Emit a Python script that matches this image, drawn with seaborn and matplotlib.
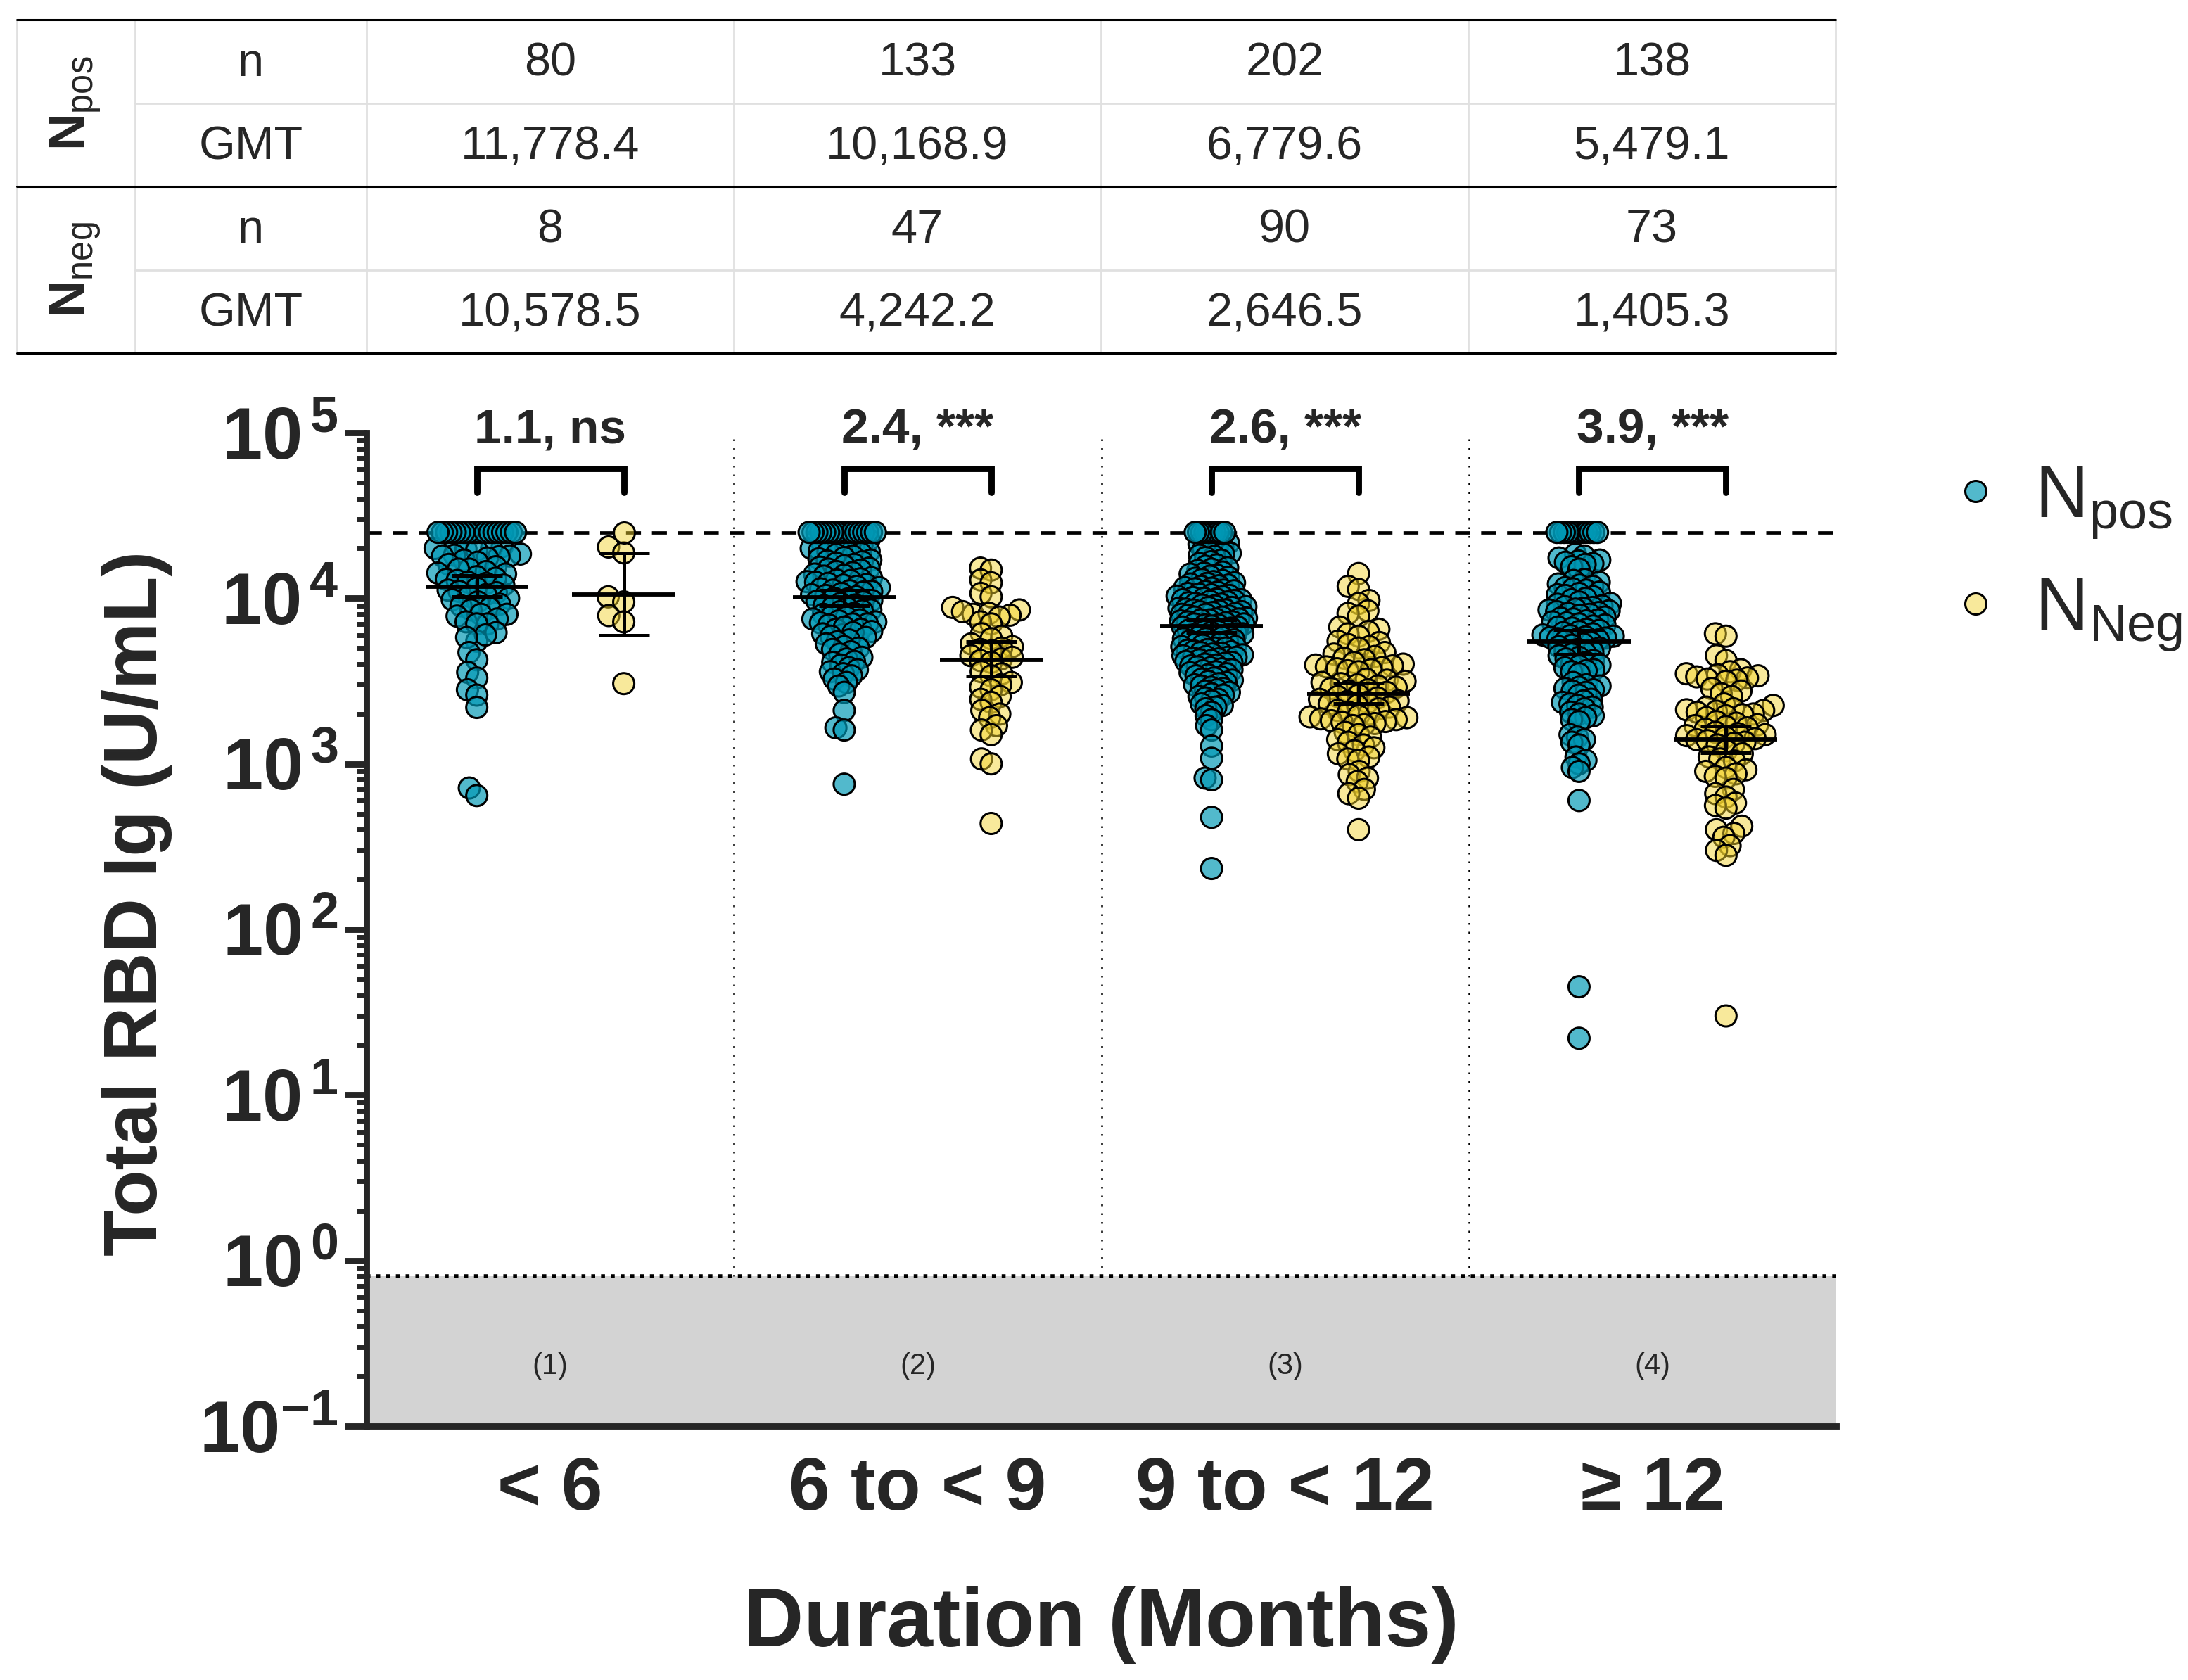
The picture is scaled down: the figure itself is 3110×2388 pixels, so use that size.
import warnings
import numpy as np
import pandas as pd
import matplotlib
matplotlib.use("Agg")
import matplotlib.pyplot as plt
from matplotlib.lines import Line2D
from matplotlib.ticker import LogLocator, NullFormatter
import seaborn as sns

warnings.filterwarnings("ignore")

# categories / groups
durations = ["< 6", "6 to < 9", "9 to < 12", "\u2265 12"]
groups = ["Npos", "Nneg"]

# table values
n_pos = [80, 133, 202, 138]
gmt_pos = [11778.4, 10168.9, 6779.6, 5479.1]
n_neg = [8, 47, 90, 73]
gmt_neg = [10578.5, 4242.2, 2646.5, 1405.3]

# 95% CI of the GMT
ci_pos_lo = [10200, 9040, 6200, 4600]
ci_pos_hi = [13700, 11150, 7400, 6410]
ci_neg_lo = [6000, 3390, 2320, 1163]
ci_neg_hi = [18700, 5450, 3080, 1693]

signif = ["ns", "***", "***", "***"]
region_labels = ["(1)", "(2)", "(3)", "(4)"]

ULOD = 25000
LLOD = 0.8

# individual values (U/mL)
pos_lt6 = [25000] * 19 + [
    21000, 20500, 20000, 20000, 19800, 19500,
    18500, 18200, 18000, 18000, 17800, 17500, 17000,
    16500, 16000, 15500, 15000, 15000, 14500, 14200, 14000,
    13500, 13200, 13000, 12800, 12500, 12300, 12000,
    11500, 11200, 11000, 10800, 10500, 10300, 10000,
    9800, 9500, 9200, 9000, 8700, 8500,
    8000, 8000, 7800, 7500, 7200, 7000, 7000, 5500,
    6200, 6000, 5800,
    4700, 4250, 3570, 3300, 2800, 2600, 2190, 714, 643]
neg_lt6 = [25000, 20400, 18800, 10200, 9500, 7860, 7200, 3050]

pos_6to9 = [25000] * 18 + [
    23500, 23000, 22500, 22000, 22000, 21500, 21000, 20800,
    20300, 20000, 19700, 19500, 19200, 19000, 18700, 18400, 18000,
    17600, 17300, 17000, 16800, 16600, 16300, 16000, 15700,
    15400, 15200, 15000, 14800, 14500, 14300, 14000, 13800, 13600,
    13300, 13100, 12900, 12800, 12600, 12500, 12300, 12100, 12000, 11800,
    11600, 11400, 11200, 11100, 11000, 10900, 10700, 10500, 10400, 10200,
    10000, 9900, 9700, 9600, 9500, 9300, 9100, 9000,
    8800, 8700, 8500, 8400, 8300, 8100, 8000, 7800,
    7700, 7500, 7400, 7300, 7200, 7100, 7000, 6900, 7000, 6500, 6000, 5600,
    6700, 6500, 6300, 6200, 6100, 5900,
    5800, 5600, 5450, 5300, 5100,
    5000, 4900, 4750, 4600, 4400,
    4300, 4150, 4100, 3950,
    3800, 3700, 3600, 3500, 3400,
    3250, 3100, 2950, 2700,
    2100, 1650, 1600, 753]
neg_6to9 = [
    15200, 14800, 12900, 12400, 8000, 10700, 10200,
    8800, 8500, 8300, 8100, 7900, 7700, 7200, 7000,
    6100, 5900, 5700, 5300, 5100, 5000, 4900, 4800, 4300,
    4500, 4400, 4200, 4100, 3600, 3500, 3400,
    3100, 3000, 2900, 2800, 2550, 2450, 2350,
    2100, 2000, 1900, 1700, 1600, 1500, 1070, 1000, 436]

pos_9to12 = [25000] * 10 + [
    22500, 22000, 21500, 21200, 20800, 20500,
    19800, 19400, 19000, 18700, 18500, 18200, 17900, 17600,
    17000, 16600, 16200, 15900, 15600, 15300, 15000, 14700,
    14400, 14200, 14000, 13800, 13600, 13400, 13200, 13000, 12800, 12600,
    12400, 12300, 12200, 12000, 11900, 11800, 11600, 11500, 11400, 11200,
    11100, 11000, 10900, 10700, 10600,
    10500, 10400, 10300, 10200, 10100, 10000, 9900, 9800, 9800, 9700,
    9600, 9500, 9400, 9300, 9200, 9100, 9000,
    8900, 8800, 8800, 8700, 8600, 8500, 8500, 8400, 8300, 8300,
    8200, 8100, 8000, 8000, 7900, 7800, 7700, 7700, 7600,
    7500, 7500, 7400, 7400, 7300, 7200, 7200, 7100, 7000, 7000,
    6900, 6900, 6800, 6700, 6700, 6600, 6500, 6500,
    6400, 6300, 6300, 6200, 6100, 6100, 6000, 6000, 5900, 5800,
    5800, 5700, 5700, 5600, 5500,
    5450, 5400, 5300, 5300, 5200, 5100, 5100, 5000, 5000, 4900,
    4850, 4800, 4750,
    4700, 4650, 4600, 4550, 4500, 4450, 4400, 4400, 4350, 4300,
    4250, 4200, 4150, 4100, 4050,
    4000, 3950, 3900, 3850, 3800, 3750, 3700, 3650, 3600, 3550, 3500, 3450,
    3400, 3350, 3300, 3250, 3200, 3150, 3100, 3050, 3000, 2950, 2900,
    2850, 2800, 2750, 2700, 2650, 2600, 2550, 2500,
    2450, 2400, 2300, 2250, 2200, 2150,
    2050, 1950, 1850, 1700, 1600,
    1280, 1080, 820, 800, 475, 233]
neg_9to12 = [
    14100, 11800, 11300, 9700, 9300, 8400, 8100, 7800,
    6700, 6500, 6300, 6100, 5900, 5500, 5400, 5250, 5100, 5000,
    4700, 4600, 4450, 4350, 4250,
    4100, 4000, 3950, 3900, 3850, 3800, 3750, 3700, 3650, 3600,
    3250, 3200, 3150, 3100, 3050, 3000, 2950, 2900, 2850, 2800, 2750, 2700,
    2600, 2550, 2500, 2450, 2400, 2380, 2350, 2300, 2250, 2200, 2150, 2100,
    2050, 2000, 1950,
    1920, 1900, 1870, 1850, 1820, 1800, 1780, 1750, 1720, 1700,
    1550, 1500, 1450, 1400, 1350, 1300, 1250,
    1200, 1150, 1100, 1070, 1050,
    900, 860, 820, 780, 700, 660, 620, 400]

pos_ge12 = [25000] * 12 + [
    18500, 18000, 17500, 17000, 16800, 16500, 16200, 16000, 15500, 15000,
    13000, 12800, 12500, 12200, 12000, 11800, 11600, 11400, 11200,
    10900, 10700, 10500, 10400, 10200, 10000, 9800,
    9500, 9300, 9200, 9000, 8900, 8800, 8700, 8600, 8500, 8400,
    8300, 8200, 8100, 8000, 7900,
    7700, 7600, 7500, 7400, 7300, 7200, 7100, 7000, 6900, 6800,
    6700, 6600, 6500, 6400, 6300, 6200,
    6100, 6000, 5950, 5900, 5850, 5800, 5750, 5700, 5650, 5600,
    5500, 5400, 5300, 5200,
    5100, 5000, 4900, 4800, 4750, 4700, 4600, 4500, 4400, 4300,
    4200, 4100, 4000, 3950, 3900, 3800, 3700, 3650, 3600, 3500,
    3100, 3000, 2950, 2900, 2850, 2800, 2750, 2700, 2600,
    2450, 2400, 2350, 2300, 2250, 2200, 2150,
    2050, 2000, 1950, 1900, 1850, 1800,
    1500, 1450, 1400, 1350, 1300,
    1100, 1050, 1000, 950, 900,
    600, 45, 22]
neg_ge12 = [
    6100, 5900, 4500, 4200,
    3700, 3600, 3500, 3450, 3400, 3350, 3300, 3250, 3200, 3150,
    2850, 2750, 2650, 2550,
    2300, 2250, 2200, 2150, 2120, 2100, 2080, 2050, 2000, 1980, 1950, 1900,
    1800, 1760, 1720, 1700, 1680, 1650, 1620,
    1550, 1520, 1500, 1480, 1450, 1420, 1400, 1380, 1350, 1330, 1300,
    1200, 1150, 1100, 1070, 1040,
    950, 920, 900, 870, 840, 820,
    700, 660, 630, 580, 560, 540,
    420, 400, 380, 360, 320, 300, 280, 30]

values = {
    (durations[0], "Npos"): pos_lt6, (durations[0], "Nneg"): neg_lt6,
    (durations[1], "Npos"): pos_6to9, (durations[1], "Nneg"): neg_6to9,
    (durations[2], "Npos"): pos_9to12, (durations[2], "Nneg"): neg_9to12,
    (durations[3], "Npos"): pos_ge12, (durations[3], "Nneg"): neg_ge12,
}
rows = [(d, g, v) for (d, g), vals in values.items() for v in vals]
df = pd.DataFrame(rows, columns=["duration", "group", "value"])

teal = "#0098B5"
yellow = "#F2D22E"
alpha = {"Npos": 0.68, "Nneg": 0.48}
palette = {"Npos": teal, "Nneg": yellow}

sns.set_theme(style="ticks")
plt.rcParams["font.family"] = ["Liberation Sans", "DejaVu Sans"]
plt.rcParams["mathtext.fontset"] = "custom"
plt.rcParams["mathtext.rm"] = "Liberation Sans"
plt.rcParams["mathtext.it"] = "Liberation Sans:italic"
plt.rcParams["mathtext.bf"] = "Liberation Sans:bold"
plt.rcParams["mathtext.sf"] = "Liberation Sans"

W, H = 3110, 2388
fig = plt.figure(figsize=(W / 200, H / 200), dpi=200)
ax = fig.add_axes([521 / W, 1 - 2027 / H, 2089 / W, (2027 - 615) / H])
ax.set_yscale("log")

# packing sizes used only to lay out each swarm (Prism squeezes its columns)
pack_rest = {("< 6", "Npos"): 5.3, ("< 6", "Nneg"): 8.0,
             ("6 to < 9", "Npos"): 4.2, ("9 to < 12", "Npos"): 3.3,
             ("\u2265 12", "Npos"): 3.8}
pack_top = {"< 6": 2.1, "6 to < 9": 1.9, "9 to < 12": 1.6, "\u2265 12": 1.8}

n0 = len(ax.collections)
common = dict(x="duration", y="value", hue="group", order=durations,
              hue_order=groups, palette=palette, dodge=True, legend=False,
              edgecolor="black", linewidth=0, ax=ax, zorder=3)
for d in durations:
    for g in groups:
        sub = df[(df["duration"] == d) & (df["group"] == g)]
        rest = sub[sub["value"] < ULOD]
        top = sub[sub["value"] >= ULOD]
        if len(rest):
            sns.swarmplot(data=rest, size=pack_rest.get((d, g), 5.3), **common)
        if len(top):
            sns.swarmplot(data=top, size=pack_top[d], **common)
swarm_colls = ax.collections[n0:]

ax.set_xlim(-0.5, 3.5)
ax.set_ylim(0.1, 1e5)

# compute the swarm layout, then freeze it and draw the real marker size
fig.canvas.draw()
for c in swarm_colls:
    c.__dict__.pop("draw", None)
    fc = c.get_facecolors()
    if len(fc) == 0:
        continue
    a = alpha["Npos"] if fc[0, 2] > fc[0, 0] else alpha["Nneg"]
    fc[:, 3] = a
    c.set_facecolors(fc)
    c.set_edgecolors("black")
    c.set_linewidths(1.1)
    c.set_sizes([10.8 ** 2])

# limits of detection
ax.axhspan(0.1, LLOD, color="#d3d3d3", lw=0, zorder=0)
ax.axhline(LLOD, color="black", lw=2.0, ls=(0, (1, 1.5)), zorder=2)
ax.axhline(ULOD, color="black", lw=1.7, ls=(0, (4.5, 3.3)), zorder=2)
ax.vlines([0.5, 1.5, 2.5], LLOD, 1e5, colors="black", lw=0.9,
          linestyles=(0, (1, 4)), zorder=1)

offs = [-0.2, 0.2]
for h, (gm, lo, hi) in enumerate([(gmt_pos, ci_pos_lo, ci_pos_hi),
                                   (gmt_neg, ci_neg_lo, ci_neg_hi)]):
    xs = np.arange(4) + offs[h]
    gm = np.array(gm)
    ax.errorbar(xs, gm, yerr=[gm - np.array(lo), np.array(hi) - gm],
                fmt="none", ecolor="black", elinewidth=1.8, capsize=13,
                capthick=1.8, zorder=5)
    ax.hlines(gm, xs - 0.14, xs + 0.14, colors="black", lw=2.1, zorder=5)

for i in range(4):
    ratio = gmt_pos[i] / gmt_neg[i]
    ax.plot([i + offs[0], i + offs[0], i + offs[1], i + offs[1]],
            [43500, 61000, 61000, 43500], color="black", lw=3.2,
            solid_joinstyle="miter", clip_on=False, zorder=5)
    ax.text(i, 87000, f"{ratio:.1f}, {signif[i]}", ha="center",
            va="baseline", fontsize=25, fontweight="bold")
    ax.text(i, 0.23, region_labels[i], ha="center", va="center", fontsize=15)

# axes styling
for s in ["top", "right"]:
    ax.spines[s].set_visible(False)
for s in ["left", "bottom"]:
    ax.spines[s].set_linewidth(3.2)
    ax.spines[s].set_zorder(6)
ax.set_yticks([10.0 ** k for k in range(-1, 6)])
ax.set_yticklabels([r"$\mathbf{10^{%s%d}}$" % ("" if k < 0 else r"\,", k)
                    for k in range(-1, 6)])
ax.yaxis.set_minor_locator(LogLocator(base=10, subs=np.arange(2, 10), numticks=30))
ax.yaxis.set_minor_formatter(NullFormatter())
ax.tick_params(axis="y", which="major", length=11, width=3.2, pad=3.6,
               labelsize=37, direction="out")
ax.tick_params(axis="y", which="minor", length=5, width=2.5, direction="out")
ax.tick_params(axis="x", length=0, pad=15, labelsize=38)
for t in ax.get_xticklabels():
    t.set_fontweight("bold")
ax.set_xlabel("Duration (Months)", fontsize=42.5, fontweight="bold")
ax.xaxis.set_label_coords(0.5, -0.161)
ax.set_ylabel("Total RBD Ig (U/mL)", fontsize=38.5, fontweight="bold")
ax.yaxis.set_label_coords(-0.132, 0.526)
ax.grid(False)

# legend
handles = [Line2D([0], [0], marker="o", ls="none", markersize=10.8,
                  markerfacecolor=matplotlib.colors.to_rgba(palette[g], alpha[g]),
                  markeredgecolor="black", markeredgewidth=1.1) for g in groups]
fig.legend(handles, [r"$\mathrm{N}_{\mathrm{pos}}$", r"$\mathrm{N}_{\mathrm{Neg}}$"],
           loc="upper left", bbox_to_anchor=(2755 / W, 1 - 658 / H),
           frameon=False, fontsize=38, handlelength=1.0, handletextpad=0.3,
           labelspacing=0.47, borderpad=0, borderaxespad=0)

# summary table above the plot
tab = fig.add_axes([24 / W, 1 - 502 / H, 2585 / W, (502 - 28) / H])
tab.set_xlim(-1.452, 3.5)
tab.set_ylim(4, 0)
tab.axis("off")
light = "#e0e0e0"
for xv in [-1.452, -1.13, -0.5, 0.5, 1.5, 2.5, 3.5]:
    tab.plot([xv, xv], [0, 4], color=light, lw=1.0, clip_on=False)
for yv in [1, 3]:
    tab.plot([-1.13, 3.5], [yv, yv], color=light, lw=1.0, clip_on=False)
for yv in [0, 2, 4]:
    tab.plot([-1.452, 3.5], [yv, yv], color="black", lw=1.1, clip_on=False)

table_rows = [("n", [f"{v:d}" for v in n_pos]),
              ("GMT", [f"{v:,.1f}" for v in gmt_pos]),
              ("n", [f"{v:d}" for v in n_neg]),
              ("GMT", [f"{v:,.1f}" for v in gmt_neg])]
for r, (lab, vals) in enumerate(table_rows):
    tab.text(-0.815, r + 0.53, lab, ha="center", va="center", fontsize=24)
    for i, v in enumerate(vals):
        tab.text(i, r + 0.53, v, ha="center", va="center", fontsize=24)
tab.text(-1.291, 1.0, r"$\mathbf{N}_{\mathrm{pos}}$", rotation=90,
         ha="center", va="center", fontsize=26)
tab.text(-1.291, 3.0, r"$\mathbf{N}_{\mathrm{neg}}$", rotation=90,
         ha="center", va="center", fontsize=26)

fig.savefig("out.png", dpi=200)
